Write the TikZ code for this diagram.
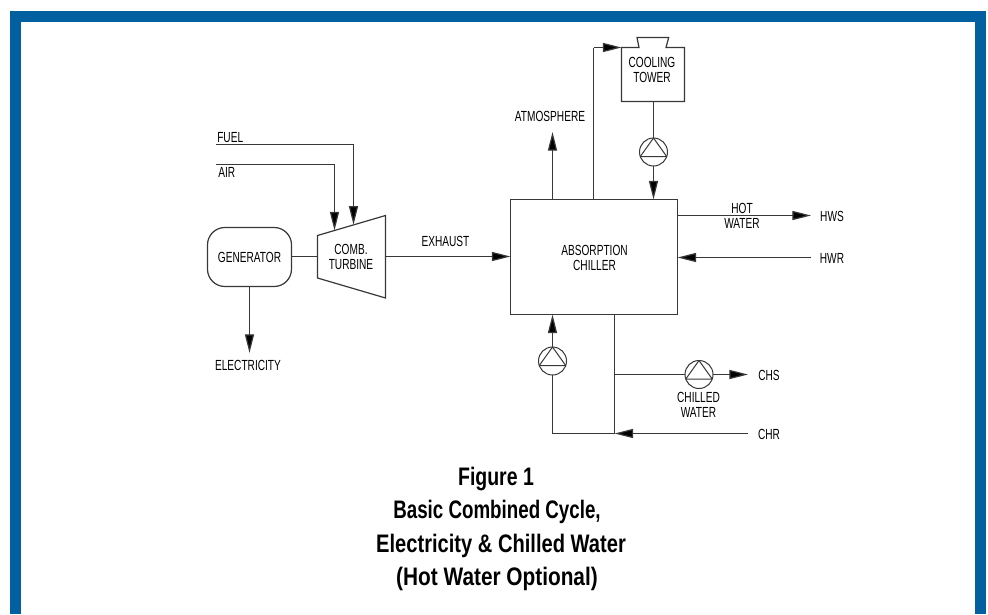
\documentclass[tikz,border=0pt]{standalone}
\usepackage{graphicx}
\usepackage{fontspec}
\setmainfont{Liberation Sans}
\newfontfamily\lblfont[FakeStretch=0.69]{Liberation Sans}
\newfontfamily\ttlfont[FakeStretch=0.74]{Liberation Sans Bold}
\usetikzlibrary{arrows.meta,calc}
\definecolor{framebl}{HTML}{0260A0}
\definecolor{ink}{HTML}{383838}
\tikzset{
  pipe/.style={draw=ink,line width=0.9pt},
  flow/.style={pipe,-{Triangle[length=14pt,width=6.8pt,fill=black]}},
  lbl/.style={font=\lblfont\fontsize{11pt}{11.25pt}\selectfont,text=black,inner sep=0pt,align=center},
  ttl/.style={font=\ttlfont\fontsize{19pt}{24.75pt}\selectfont,text=black,inner sep=0pt,align=center,anchor=base},
  pumpnode/.style={circle,draw=ink,line width=0.75pt,minimum size=21pt,inner sep=0pt,outer sep=0pt},
  boxnode/.style={rectangle,draw=ink,line width=0.9pt,inner sep=0pt,outer sep=0pt,align=center,
     font=\lblfont\fontsize{11pt}{11.25pt}\selectfont,text=black}
}
\newcommand{\pumpsym}[1]{\draw[draw=ink,line width=0.75pt,line join=round] (#1.north)--($(#1.center)+(-13.2,4.5)$)--($(#1.center)+(13.2,4.5)$)--cycle;}
\begin{document}
\begin{tikzpicture}[x=0.75pt,y=-0.75pt]
\useasboundingbox (0,0) rectangle (988,614);
\fill[white] (0,0) rectangle (988,614);
\fill[framebl] (10,11) rectangle (986,614);
\fill[white] (20.5,21.5) rectangle (975,614);
% coordinates for free ends
\coordinate (tW) at (317.5,256.5);
\coordinate (tE) at (385.5,256.5);
\coordinate (fuelS) at (216,144.5);
\coordinate (airS) at (216,164.5);
\coordinate (fuelT) at (353.5,224.8);
\coordinate (airT) at (334.5,230.5);
\coordinate (elecE) at (249.5,353);
\coordinate (atmE) at (552.5,132);
\coordinate (hwsE) at (811,215.5);
\coordinate (hwrS) at (811,257.5);
\coordinate (chsE) at (748,374.5);
\coordinate (chrS) at (748,433.5);
\coordinate (towerIn) at (593.5,47.5);
\coordinate (tee) at (614.5,433.5);
\coordinate (branch) at (614.5,374.5);
% equipment
\node[boxnode,rounded corners=13pt,minimum width=63pt,minimum height=44.25pt] (gen) at (249.5,257) {GENERATOR};
\draw[pipe,line join=miter] (317.5,235.5)--(385.5,215.5)--(385.5,298)--(317.5,278)--cycle;
\node[lbl] (turb) at (351,256.5) {COMB.\\TURBINE};
\node[boxnode,minimum width=125.25pt,minimum height=86.25pt] (chiller) at (594,257) {};
\node[lbl] (chtext) at (594.5,257.5) {ABSORPTION\\CHILLER};
\node[boxnode,draw=none,minimum width=47.25pt,minimum height=40.5pt] (tower) at (653,74.5) {};
\node[lbl] (towertext) at (652,69.5) {COOLING\\TOWER};
\draw[pipe,line join=miter] (tower.north west)--(639,47.5)--(637,37.5)--(668.7,37.5)--(666,47.5)--(tower.north east)--(tower.south east)--(tower.south west)--cycle;
\node[pumpnode] (p1) at (653.5,152) {};
\node[pumpnode] (p2) at (552.5,361) {};
\node[pumpnode] (p3) at (699,374.5) {};
\pumpsym{p1}\pumpsym{p2}\pumpsym{p3}
% labels
\node[lbl,anchor=west] (lfuel) at (217,137.3) {FUEL};
\node[lbl,anchor=west] (lair) at (218,172) {AIR};
\node[lbl] (lelec) at (248,365.5) {ELECTRICITY};
\node[lbl] (lexh) at (445.5,241) {EXHAUST};
\node[lbl] (latm) at (550,116) {ATMOSPHERE};
\node[lbl] (lhot) at (742,215.5) {HOT\\WATER};
\node[lbl] (lhws) at (832,216) {HWS};
\node[lbl] (lhwr) at (832,258) {HWR};
\node[lbl] (lcw) at (698.5,405) {CHILLED\\WATER};
\node[lbl] (lchs) at (769,375) {CHS};
\node[lbl] (lchr) at (769,434.5) {CHR};
% connectors
\draw[pipe] (gen.east |- tW)--(tW);
\draw[flow] (tE)--(tE -| chiller.west);
\draw[flow] (fuelS)-|(fuelT);
\draw[flow] (airS)-|(airT);
\draw[flow] (gen.south -| elecE)--(elecE);
\draw[flow] (atmE |- chiller.north)--(atmE);
\draw[pipe] (towerIn |- chiller.north)--(towerIn);
\draw[flow] (towerIn)--(tower.north west);
\draw[pipe] (tower.south -| p1)--(p1.north);
\draw[flow] (p1.south)--(p1.south |- chiller.north);
\draw[flow] (hwsE -| chiller.east)--(hwsE);
\draw[flow] (hwrS)--(hwrS -| chiller.east);
\draw[flow] (p2.north)--(p2.north |- chiller.south);
\draw[pipe] (p2.south)--(p2.south |- chrS)--(tee);
\draw[pipe] (tee |- chiller.south)--(tee);
\draw[pipe] (branch)--(p3.west);
\draw[flow] (p3.east)--(chsE);
\draw[flow] (chrS)--(tee);
% title
\node[ttl] (title1) at (496,485) {\scalebox{1.04}[1]{Figure 1}};
\node[ttl] (title2) at (497,518) {Basic Combined Cycle,};
\node[ttl] (title3) at (501,552) {\scalebox{1.073}[1]{Electricity \& Chilled Water}};
\node[ttl] (title4) at (497,585) {\scalebox{1.11}[1]{(Hot Water Optional)}};
\end{tikzpicture}
\end{document}
